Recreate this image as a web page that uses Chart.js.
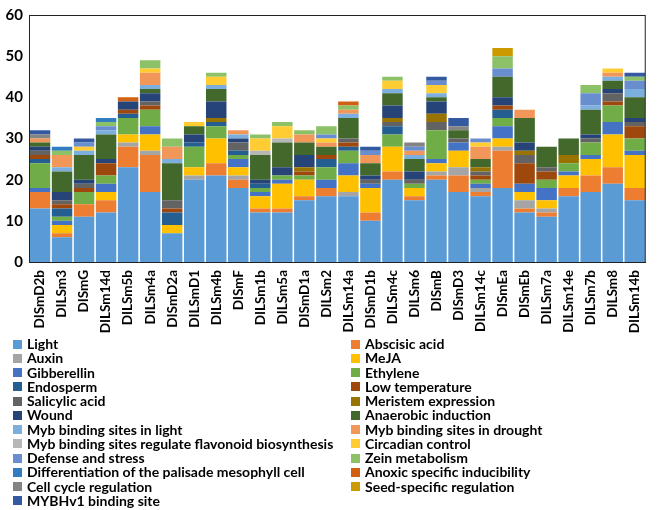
<!DOCTYPE html>
<html>
<head>
<meta charset="utf-8">
<script src="https://cdn.jsdelivr.net/npm/chart.js@4.4.1/dist/chart.umd.min.js"></script>
<style>
  body { margin: 0; background: #fff; font-family: Lato, "Open Sans", sans-serif; }
  #wrap { position: relative; width: 659px; height: 510px; overflow: hidden; }
  #chart { position: absolute; left: 0; top: 0; }
  #legend {
    position: absolute; left: 13px; top: 337px;
    display: grid; grid-template-columns: 338px 300px;
    font-weight: bold; font-size: 14px; color: #000;
  }
  .item { height: 14.25px; line-height: 14.25px; white-space: nowrap; display: flex; align-items: center; }
  .box { width: 9px; height: 9px; margin-right: 5px; flex: none; }
</style>
</head>
<body>
<div id="wrap">
  <canvas id="chart" width="659" height="338"></canvas>
  <div id="legend"></div>
</div>
<script>
const categories = ['DISmD2b', 'DILSm3', 'DISmG', 'DILSm14d', 'DILSm5b', 'DILSm4a', 'DISmD2a', 'DILSmD1',
  'DILSm4b', 'DISmF', 'DILSm1b', 'DILSm5a', 'DISmD1a', 'DILSm2', 'DILSm14a', 'DISmD1b', 'DILSm4c',
  'DILSm6', 'DISmB', 'DISmD3', 'DILSm14c', 'DISmEa', 'DISmEb', 'DILSm7a', 'DILSm14e', 'DILSm7b',
  'DILSm8', 'DILSm14b']

const yTicks = [0, 10, 20, 30, 40, 50, 60]

// one array per cis-element, same order as categories
const light        = [13, 6, 11, 12, 23, 17, 7, 20, 21, 18, 12, 12, 15, 16, 16, 10, 20, 15, 20, 17, 16, 18, 12, 11, 16, 17, 19, 15]
const abscisic     = [4, 1, 3, 3, 5, 9, 0, 0, 3, 2, 1, 1, 1, 2, 0, 2, 2, 1, 1, 4, 1, 9, 1, 1, 2, 4, 4, 3]
const auxin        = [0, 0, 0, 0, 1, 1, 0, 1, 0, 1, 0, 0, 0, 0, 1, 0, 0, 0, 1, 2, 1, 1, 2, 1, 0, 0, 0, 0]
const meja         = [0, 2, 0, 2, 2, 4, 2, 2, 6, 2, 3, 6, 4, 0, 4, 6, 6, 2, 2, 4, 0, 2, 2, 2, 3, 4, 8, 8]
const gibberellin  = [1, 1, 0, 2, 0, 2, 0, 0, 0, 2, 1, 1, 0, 2, 3, 1, 0, 0, 1, 2, 1, 3, 2, 3, 1, 1, 3, 1]
const ethylene     = [6, 1, 3, 2, 4, 4, 0, 5, 3, 1, 1, 1, 1, 3, 3, 0, 3, 1, 7, 0, 1, 2, 0, 2, 2, 3, 4, 3]
const endosperm    = [1, 2, 0, 0, 1, 0, 3, 1, 1, 1, 1, 0, 0, 2, 1, 0, 2, 0, 0, 0, 0, 2, 0, 0, 0, 0, 0, 0]
const lowTemp      = [1, 1, 1, 3, 1, 1, 1, 0, 0, 0, 0, 0, 1, 1, 1, 0, 0, 0, 0, 0, 1, 1, 5, 2, 0, 0, 1, 3]
const salicylic    = [1, 1, 1, 0, 0, 1, 2, 0, 0, 2, 0, 0, 0, 0, 1, 1, 1, 1, 2, 1, 1, 0, 2, 1, 0, 1, 2, 1]
const meristem     = [0, 0, 0, 0, 0, 0, 0, 0, 1, 0, 0, 0, 1, 0, 0, 0, 1, 0, 2, 0, 1, 0, 1, 0, 2, 0, 0, 0]
const wound        = [1, 2, 1, 1, 2, 2, 0, 2, 4, 1, 1, 2, 3, 0, 0, 1, 3, 2, 3, 0, 0, 2, 2, 0, 0, 1, 1, 1]
const anaerobic    = [1, 5, 6, 6, 0, 1, 9, 2, 3, 0, 6, 6, 3, 2, 5, 3, 3, 3, 1, 2, 2, 5, 6, 5, 4, 6, 2, 5]
const mybLight     = [0, 1, 1, 1, 0, 1, 1, 0, 1, 1, 0, 0, 0, 0, 1, 0, 1, 1, 1, 0, 0, 0, 0, 0, 0, 1, 1, 2]
const mybDrought   = [1, 3, 0, 0, 0, 3, 3, 0, 0, 1, 0, 0, 2, 1, 1, 2, 0, 1, 0, 0, 3, 0, 2, 0, 0, 0, 1, 0]
const mybFlavonoid = [0, 0, 0, 0, 0, 0, 0, 0, 0, 0, 1, 1, 0, 0, 0, 0, 0, 0, 0, 0, 0, 0, 0, 0, 0, 0, 0, 0]
const circadian    = [0, 0, 1, 0, 0, 1, 0, 1, 2, 0, 3, 3, 0, 1, 0, 0, 2, 0, 2, 0, 1, 0, 0, 0, 0, 0, 1, 0]
const defense      = [0, 0, 1, 1, 0, 0, 0, 0, 0, 0, 0, 0, 0, 1, 0, 1, 0, 1, 1, 0, 1, 2, 0, 0, 0, 3, 0, 2]
const zein         = [0, 1, 0, 1, 0, 2, 2, 0, 1, 0, 1, 1, 1, 2, 1, 0, 1, 0, 0, 0, 0, 3, 0, 0, 0, 2, 0, 1]
const palisade     = [0, 1, 0, 1, 0, 0, 0, 0, 0, 0, 0, 0, 0, 0, 0, 0, 0, 0, 0, 0, 0, 0, 0, 0, 0, 0, 0, 0]
const anoxic       = [0, 0, 0, 0, 1, 0, 0, 0, 0, 0, 0, 0, 0, 0, 1, 0, 0, 0, 0, 0, 0, 0, 0, 0, 0, 0, 0, 0]
const cellCycle    = [1, 0, 0, 0, 0, 0, 0, 0, 0, 0, 0, 0, 0, 0, 0, 0, 0, 1, 0, 1, 0, 0, 0, 0, 0, 0, 0, 0]
const seedSpecific = [0, 0, 0, 0, 0, 0, 0, 0, 0, 0, 0, 0, 0, 0, 0, 0, 0, 0, 0, 0, 0, 2, 0, 0, 0, 0, 0, 0]
const mybhv1       = [1, 0, 1, 0, 0, 0, 0, 0, 0, 0, 0, 0, 0, 0, 0, 1, 0, 0, 1, 2, 0, 0, 0, 0, 0, 0, 0, 1]

const series = [
  ['Light', light, '#5B9BD5'],
  ['Abscisic acid', abscisic, '#ED7D31'],
  ['Auxin', auxin, '#A5A5A5'],
  ['MeJA', meja, '#FFC000'],
  ['Gibberellin', gibberellin, '#4472C4'],
  ['Ethylene', ethylene, '#70AD47'],
  ['Endosperm', endosperm, '#255E91'],
  ['Low temperature', lowTemp, '#9E480E'],
  ['Salicylic acid', salicylic, '#636363'],
  ['Meristem expression', meristem, '#997300'],
  ['Wound', wound, '#264478'],
  ['Anaerobic induction', anaerobic, '#43682B'],
  ['Myb binding sites in light', mybLight, '#7CAFDD'],
  ['Myb binding sites in drought', mybDrought, '#F1975A'],
  ['Myb binding sites regulate flavonoid biosynthesis', mybFlavonoid, '#B7B7B7'],
  ['Circadian control', circadian, '#FFCD33'],
  ['Defense and stress', defense, '#698ED0'],
  ['Zein metabolism', zein, '#8CC168'],
  ['Differentiation of the palisade mesophyll cell', palisade, '#327DC2'],
  ['Anoxic specific inducibility', anoxic, '#D26012'],
  ['Cell cycle regulation', cellCycle, '#848484'],
  ['Seed-specific regulation', seedSpecific, '#CC9A00'],
  ['MYBHv1 binding site', mybhv1, '#335AA1']
]

const plotBorder = {
  id: 'plotBorder',
  afterDraw(chart) {
    const { ctx, chartArea: a } = chart
    ctx.save()
    ctx.strokeStyle = '#222'
    ctx.lineWidth = 1
    ctx.strokeRect(a.left + 0.5, a.top + 0.5, a.right - a.left - 1, a.bottom - a.top)
    ctx.restore()
  }
}

const fontFamily = 'Lato, "Open Sans", sans-serif'

new Chart(document.getElementById('chart'), {
  type: 'bar',
  data: {
    labels: categories,
    datasets: series.map(([label, data, color]) => ({
      label,
      data,
      backgroundColor: color,
      borderWidth: 0,
      barPercentage: 0.93,
      categoryPercentage: 1.0
    }))
  },
  options: {
    responsive: false,
    animation: false,
    layout: { padding: { top: 9, right: 4, left: 0, bottom: 0 } },
    plugins: {
      legend: { display: false },
      tooltip: { enabled: false }
    },
    scales: {
      x: {
        stacked: true,
        grid: { display: false, drawTicks: false },
        border: { color: '#000', width: 1 },
        ticks: {
          color: '#000',
          font: { family: fontFamily, size: 13.5, weight: 'bold' },
          minRotation: 90,
          maxRotation: 90,
          autoSkip: false,
          padding: 8
        },
        afterFit: s => { s.height = 76 }
      },
      y: {
        stacked: true,
        min: 0,
        max: 60,
        afterBuildTicks: s => { s.ticks = yTicks.map(v => ({ value: v })) },
        grid: { display: false, drawTicks: false },
        border: { color: '#000', width: 1 },
        ticks: {
          color: '#000',
          font: { family: fontFamily, size: 15, weight: 'bold' },
          padding: 6
        },
        afterFit: s => { s.width = 29 }
      }
    }
  },
  plugins: [plotBorder]
})

// two-column legend, row-major like the original
const legendEl = document.getElementById('legend')
series.forEach(([label, , color]) => {
  const item = document.createElement('div')
  item.className = 'item'
  item.innerHTML = '<span class="box" style="background:' + color + '"></span>' + label
  legendEl.appendChild(item)
})
</script>
</body>
</html>
